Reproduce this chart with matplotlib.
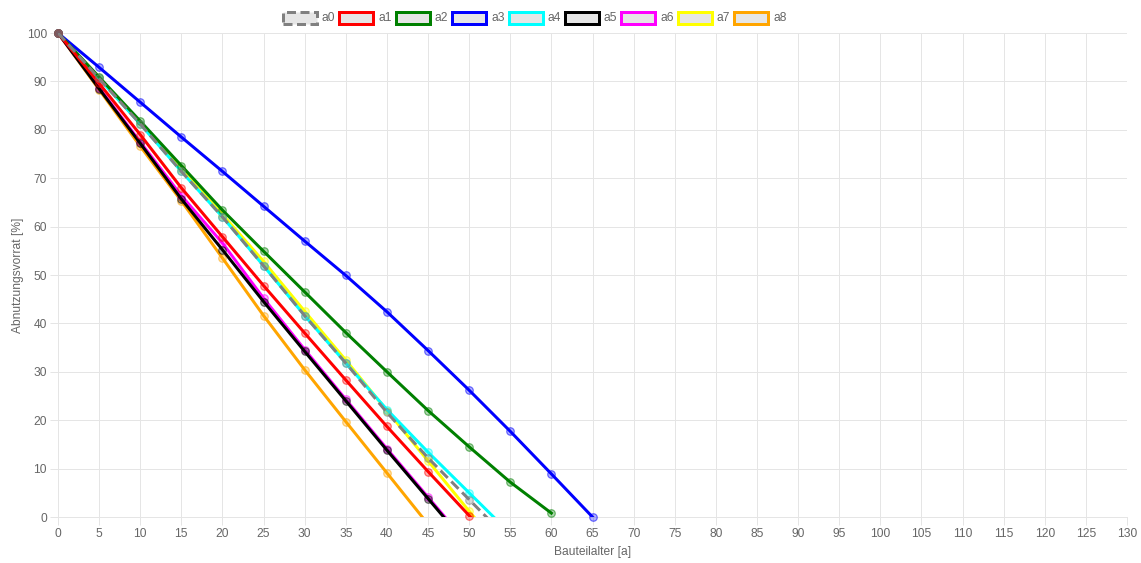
import matplotlib
matplotlib.use("Agg")
import matplotlib.pyplot as plt
from matplotlib.patches import Rectangle
from matplotlib.colors import to_rgba

# Component age in years (sampled every 5 years)
ages = list(range(0, 70, 5))

# Remaining wear reserve [%] per component; values below zero are cut off by the axis
a0 = [100, 90.6, 81.2, 71.4, 62.0, 51.9, 41.6, 31.8, 21.6, 12.2, 3.6, -5.0]
a1 = [100, 89.6, 79.0, 68.0, 57.9, 47.8, 38.0, 28.3, 18.7, 9.4, 0.3, -9.0]
a2 = [100, 90.9, 81.8, 72.6, 63.4, 54.9, 46.5, 38.1, 30.0, 22.0, 14.5, 7.2, 0.8]
a3 = [100, 92.9, 85.7, 78.5, 71.4, 64.2, 57.0, 49.9, 42.4, 34.4, 26.2, 17.7, 8.9, 0.0]
a4 = [100, 90.6, 81.2, 71.4, 62.0, 51.9, 41.6, 31.8, 22.2, 13.4, 5.0, -3.4]
a5 = [100, 88.5, 77.2, 65.7, 55.2, 44.5, 34.2, 24.0, 13.8, 3.8, -6.2]
a6 = [100, 88.7, 77.5, 66.4, 56.6, 45.2, 34.6, 24.3, 14.1, 4.1, -5.9]
a7 = [100, 90.7, 81.3, 71.8, 62.5, 52.8, 42.5, 32.4, 22.0, 11.6, 1.2, -9.0]
a8 = [100, 88.3, 76.6, 65.3, 53.5, 41.6, 30.4, 19.7, 9.1, -1.5]

series_names = ["a0", "a1", "a2", "a3", "a4", "a5", "a6", "a7", "a8"]
series_values = [a0, a1, a2, a3, a4, a5, a6, a7, a8]
series_colors = ["#808080", "#ff0000", "#008000", "#0000ff", "#00ffff",
                 "#000000", "#ff00ff", "#ffff00", "#ffa500"]

x_ticks = list(range(0, 135, 5))
y_ticks = list(range(0, 110, 10))

W, H = 1141, 563
DPI = 100
plt.rcParams["font.family"] = ["Liberation Sans", "DejaVu Sans"]

fig = plt.figure(figsize=(W / DPI, H / DPI), dpi=DPI)
left_px, right_px, top_px, bottom_px = 58, 1127, 33, 517
ax = fig.add_axes([left_px / W, 1 - bottom_px / H,
                   (right_px - left_px) / W, (bottom_px - top_px) / H])

grid_col = "#e5e5e5"
label_col = "#666666"
px = 72 / DPI  # one pixel in points
lw = 3 * px

n = len(series_names)
for i, (name, vals, col) in enumerate(zip(series_names, series_values, series_colors)):
    xs = ages[:len(vals)]
    z = 10 + (n - i) * 2
    kw = {}
    if name == "a0":
        kw = dict(linestyle=(0, (3.4, 1.7)), dash_capstyle="butt")
    ax.plot(xs, vals, color=col, lw=lw, zorder=z, clip_on=True,
            solid_joinstyle="round", **kw)
    vis = [(x, v) for x, v in zip(xs, vals) if v >= 0]
    ax.plot([p[0] for p in vis], [p[1] for p in vis], linestyle="none",
            marker="o", markersize=7.5 * px,
            markerfacecolor=to_rgba(col, 0.3),
            markeredgecolor=to_rgba(col, 0.55), markeredgewidth=1.2 * px,
            zorder=z + 1, clip_on=False)

ax.set_xlim(0, 130)
ax.set_ylim(0, 100)
ax.set_xticks(x_ticks)
ax.set_yticks(y_ticks)
ax.grid(True, color=grid_col, lw=1 * px, zorder=0)
ax.set_axisbelow(True)
for s in ax.spines.values():
    s.set_visible(False)
for side in ("left", "bottom"):
    ax.spines[side].set_visible(True)
    ax.spines[side].set_color(grid_col)
    ax.spines[side].set_linewidth(1 * px)
ax.tick_params(axis="both", length=8 * px, width=1 * px, color=grid_col,
               labelcolor=label_col, labelsize=12 * px, pad=3 * px)

ax.set_xlabel("Bauteilalter [a]", color=label_col, fontsize=12 * px, labelpad=6 * px)
ax.set_ylabel("Abnutzungsvorrat [%]", color=label_col, fontsize=12 * px, labelpad=3 * px)

# Legend row along the top
box_w, box_h = 34, 11
start_x, step_x, cy = 283, 56.4, 18
for i, (name, col) in enumerate(zip(series_names, series_colors)):
    bx = start_x + i * step_x
    ls = (0, (3, 1.5)) if name == "a0" else "solid"
    rect = Rectangle((bx / W, 1 - (cy + box_h / 2) / H), box_w / W, box_h / H,
                     transform=fig.transFigure, facecolor="#e6e6e6",
                     edgecolor=col, linewidth=3 * px, linestyle=ls)
    fig.patches.append(rect)
    fig.text((bx + box_w + 5) / W, 1 - cy / H, name, color=label_col,
             fontsize=12 * px, ha="left", va="center")

fig.savefig("out.png", dpi=DPI)
